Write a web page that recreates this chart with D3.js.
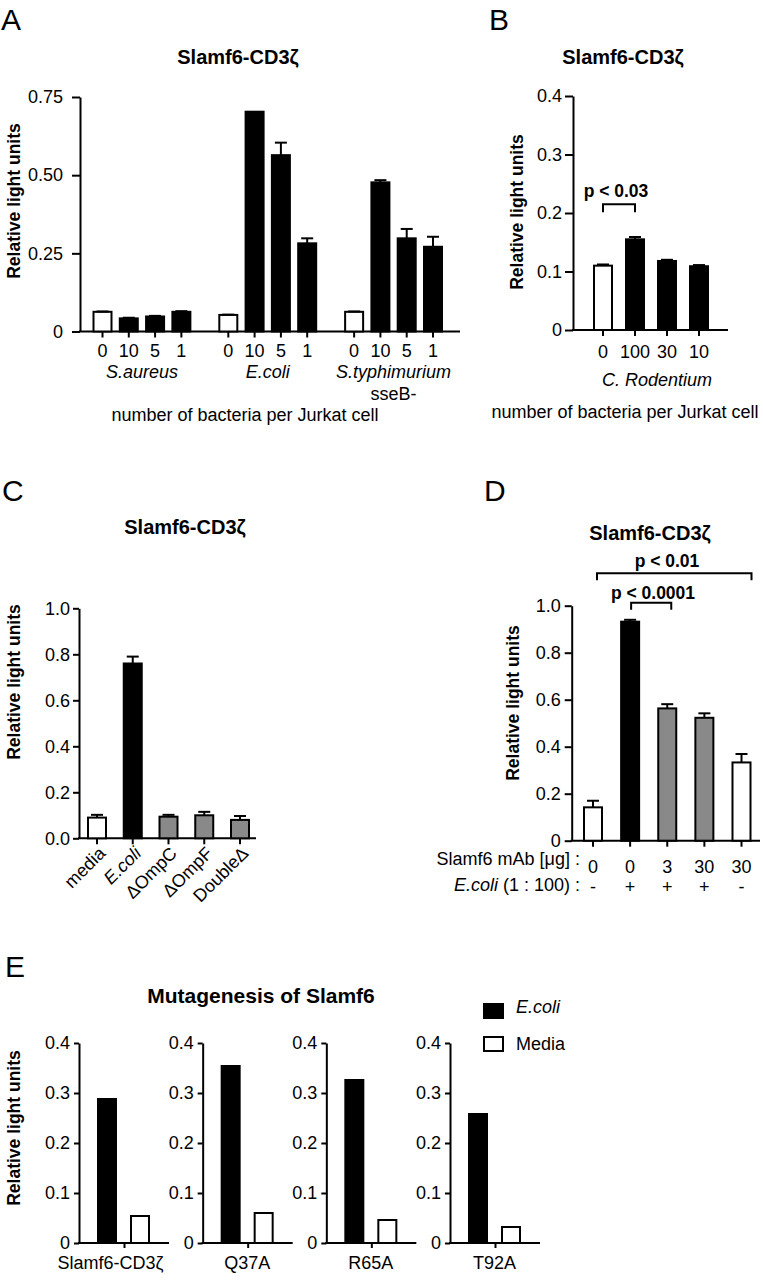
<!DOCTYPE html>
<html><head><meta charset="utf-8">
<script src="https://cdn.jsdelivr.net/npm/d3@7/dist/d3.min.js"></script>
<style>body{margin:0;background:#fff} svg{display:block}</style>
</head><body><svg id="fig" width="763" height="1280"></svg>
<script>
// ---------------- DATA ----------------
// Panel A
const aGroups = ["S.aureus", "E.coli", "S.typhimurium"];
const aDoses = ["0", "10", "5", "1"];
const aSaureus = [0.063, 0.042, 0.048, 0.063];
const aSaureusErr = [0.001, 0.002, 0.002, 0.002];
const aEcoli = [0.053, 0.703, 0.564, 0.282];
const aEcoliErr = [0.001, 0, 0.04, 0.016];
const aStyph = [0.063, 0.477, 0.298, 0.271];
const aStyphErr = [0.001, 0.007, 0.03, 0.032];
const aYTicks = [0, 0.25, 0.5, 0.75];
const aYTickLabels = ["0", "0.25", "0.50", "0.75"];

// Panel B
const bDoses = ["0", "100", "30", "10"];
const bValues = [0.11, 0.155, 0.118, 0.109];
const bErrors = [0.002, 0.004, 0.002, 0.002];
const bYTicks = [0, 0.1, 0.2, 0.3, 0.4];
const bYTickLabels = ["0", "0.1", "0.2", "0.3", "0.4"];

// Panel C
const cStrains = ["media", "E.coli", "ΔOmpC", "ΔOmpF", "DoubleΔ"];
const cValues = [0.09, 0.76, 0.094, 0.10, 0.08];
const cErrors = [0.012, 0.03, 0.008, 0.015, 0.017];
const cYTicks = [0, 0.2, 0.4, 0.6, 0.8, 1.0];
const cYTickLabels = ["0.0", "0.2", "0.4", "0.6", "0.8", "1.0"];

// Panel D
const dMab = ["0", "0", "3", "30", "30"];
const dEcoli = ["-", "+", "+", "+", "-"];
const dValues = [0.142, 0.932, 0.563, 0.523, 0.333];
const dErrors = [0.028, 0.008, 0.018, 0.019, 0.036];
const dYTicks = [0, 0.2, 0.4, 0.6, 0.8, 1.0];
const dYTickLabels = ["0", "0.2", "0.4", "0.6", "0.8", "1.0"];

// Panel E
const eConstructs = ["Slamf6-CD3ζ", "Q37A", "R65A", "T92A"];
const eSeries = ["E.coli", "Media"];
const eEcoli = [0.288, 0.354, 0.326, 0.258];
const eMedia = [0.054, 0.06, 0.046, 0.032];
const eYTicks = [0, 0.1, 0.2, 0.3, 0.4];
const eYTickLabels = ["0", "0.1", "0.2", "0.3", "0.4"];

// ---------------- DRAWING ----------------
const FONT = "'Liberation Sans', Arial, Helvetica, sans-serif";
const GRAY = "#898989";
const svg = d3.select("#fig");
svg.append("rect").attr("width", 763).attr("height", 1280).attr("fill", "#fff");

function text(x, y, s, o = {}) {
  const t = svg.append("text").attr("x", x).attr("y", y).text(s)
    .attr("font-family", FONT).attr("font-size", o.size || 18)
    .attr("font-weight", o.bold ? "bold" : "normal")
    .attr("font-style", o.italic ? "italic" : "normal")
    .attr("text-anchor", o.anchor || "middle").attr("fill", "#000");
  if (o.rotate) t.attr("transform", `rotate(${o.rotate},${x},${y})`);
  if (o.dy) t.attr("dy", o.dy);
  return t;
}
function styleAxis(g, fs) {
  g.attr("font-family", FONT).attr("font-size", fs || 18);
  g.selectAll("path.domain").attr("stroke", "#000").attr("stroke-width", 2);
  g.selectAll(".tick line").attr("stroke", "#000").attr("stroke-width", 2);
  g.selectAll(".tick text").attr("fill", "#000");
}
function yAxis(x, y, ticks, labels, tickSize, pad) {
  const ax = d3.axisLeft(y).tickValues(ticks).tickFormat((d, i) => labels[i])
    .tickSize(tickSize).tickSizeOuter(0).tickPadding(pad);
  const g = svg.append("g").attr("transform", `translate(${x},0)`).call(ax);
  styleAxis(g);
}
function xLine(x1, x2, y) {
  svg.append("line").attr("x1", x1 - 1).attr("x2", x2).attr("y1", y).attr("y2", y)
    .attr("stroke", "#000").attr("stroke-width", 2);
}
function xTicks(xs, y, len) {
  svg.append("g").selectAll("line").data(xs).join("line")
    .attr("x1", d => d).attr("x2", d => d).attr("y1", y).attr("y2", y + len)
    .attr("stroke", "#000").attr("stroke-width", 2);
}
function drawBars(data, y, bw) {
  const g = svg.append("g");
  g.selectAll("rect").data(data).join("rect")
    .attr("x", d => d.x - bw / 2 + 1).attr("y", d => y(d.v))
    .attr("width", bw - 2).attr("height", d => y(0) - y(d.v))
    .attr("fill", d => d.fill).attr("stroke", "#000").attr("stroke-width", 2);
  const eb = data.filter(d => d.e > 0);
  const cw = bw * 0.6;
  g.selectAll("line.v").data(eb).join("line").attr("class", "v")
    .attr("x1", d => d.x).attr("x2", d => d.x).attr("y1", d => y(d.v)).attr("y2", d => y(d.v + d.e))
    .attr("stroke", "#000").attr("stroke-width", 2);
  g.selectAll("line.c").data(eb).join("line").attr("class", "c")
    .attr("x1", d => d.x - cw / 2).attr("x2", d => d.x + cw / 2).attr("y1", d => y(d.v + d.e)).attr("y2", d => y(d.v + d.e))
    .attr("stroke", "#000").attr("stroke-width", 2);
}
function bracket(x1, x2, yb, drop) {
  svg.append("path").attr("d", `M${x1},${yb + drop}V${yb}H${x2}V${yb + drop}`)
    .attr("fill", "none").attr("stroke", "#000").attr("stroke-width", 2);
}

// ---- Panel letters ----
text(1, 30, "A", { size: 30, anchor: "start" });
text(489, 30, "B", { size: 30, anchor: "start" });
text(2, 501, "C", { size: 30, anchor: "start" });
text(484, 501, "D", { size: 30, anchor: "start" });
text(5, 977, "E", { size: 30, anchor: "start" });

// ---- Panel A ----
{
  const y = d3.scaleLinear().domain([0, 0.75]).range([331.5, 97]);
  const STRIDE = 4.785;
  const x = d3.scaleLinear().domain([0, 2 * STRIDE + 3]).range([102.5, 433]);
  const vals = [aSaureus, aEcoli, aStyph], errs = [aSaureusErr, aEcoliErr, aStyphErr];
  const data = [];
  vals.forEach((vs, g) => vs.forEach((v, i) => data.push({
    x: x(g * STRIDE + i), v, e: errs[g][i], fill: i === 0 ? "#fff" : "#000", label: aDoses[i]
  })));
  text(238, 64, "Slamf6-CD3ζ", { size: 20, bold: true });
  yAxis(80, y, aYTicks, aYTickLabels, 8, 9);
  xLine(80, 460, y(0));
  drawBars(data, y, 20);
  xTicks(data.map(d => d.x), y(0), 6);
  svg.append("g").selectAll("text").data(data).join("text")
    .attr("x", d => d.x).attr("y", 357).text(d => d.label)
    .attr("font-family", FONT).attr("font-size", 18).attr("text-anchor", "middle");
  aGroups.forEach((gname, g) => text(x(g * STRIDE + 1.5), 378, gname, { italic: true }));
  text(x(2 * STRIDE + 1.5), 400, "sseB-");
  text(245, 421, "number of bacteria per Jurkat cell");
  text(14, 201, "Relative light units", { size: 17.5, bold: true, rotate: -90, dy: "0.35em" });
}

// ---- Panel B ----
{
  const y = d3.scaleLinear().domain([0, 0.4]).range([330, 96]);
  const x = d3.scalePoint().domain(bDoses).range([603, 699]);
  const data = bDoses.map((d, i) => ({ x: x(d), v: bValues[i], e: bErrors[i], fill: i === 0 ? "#fff" : "#000" }));
  text(623, 64, "Slamf6-CD3ζ", { size: 20, bold: true });
  yAxis(573, y, bYTicks, bYTickLabels, 8, 3);
  xLine(573, 728, y(0));
  drawBars(data, y, 20);
  xTicks(data.map(d => d.x), y(0), 6);
  bDoses.forEach(d => text(x(d), 358, d));
  text(657, 386, "C. Rodentium", { italic: true });
  text(625, 418, "number of bacteria per Jurkat cell");
  text(517, 212, "Relative light units", { size: 17.5, bold: true, rotate: -90, dy: "0.35em" });
  bracket(x("0"), x("100"), y(0.215), 8);
  text(616, 197, "p < 0.03", { size: 17.5, bold: true });
}

// ---- Panel C ----
{
  const y = d3.scaleLinear().domain([0, 1]).range([838.3, 608.3]);
  const x = d3.scalePoint().domain(cStrains).range([97, 240]);
  const fills = ["#fff", "#000", GRAY, GRAY, GRAY];
  const data = cStrains.map((d, i) => ({ x: x(d), v: cValues[i], e: cErrors[i], fill: fills[i] }));
  text(185, 534, "Slamf6-CD3ζ", { size: 20, bold: true });
  yAxis(79, y, cYTicks, cYTickLabels, 6, 3);
  xLine(79, 256, y(0));
  drawBars(data, y, 20);
  xTicks(data.map(d => d.x), y(0), 6);
  cStrains.forEach(d => {
    const px = x(d) + 5, py = 850;
    svg.append("text").attr("transform", `translate(${px},${py}) rotate(-45)`)
      .attr("text-anchor", "end").attr("dy", "0.35em").attr("font-family", FONT).attr("font-size", 18)
      .attr("font-style", d === "E.coli" ? "italic" : "normal").text(d);
  });
  text(14, 682, "Relative light units", { size: 17.5, bold: true, rotate: -90, dy: "0.35em" });
}

// ---- Panel D ----
{
  const y = d3.scaleLinear().domain([0, 1]).range([840.7, 605.7]);
  const idx = d3.range(dValues.length);
  const x = d3.scalePoint().domain(idx).range([593, 741.5]);
  const fills = ["#fff", "#000", GRAY, GRAY, "#fff"];
  const data = idx.map(i => ({ x: x(i), v: dValues[i], e: dErrors[i], fill: fills[i] }));
  text(650, 540, "Slamf6-CD3ζ", { size: 20, bold: true });
  yAxis(571.7, y, dYTicks, dYTickLabels, 7, 4);
  xLine(571.7, 760, y(0));
  drawBars(data, y, 20);
  xTicks(data.map(d => d.x), y(0), 6);
  text(580, 865, "Slamf6 mAb [μg] :", { anchor: "end" });
  const t2 = text(580, 891, "", { anchor: "end" });
  t2.append("tspan").attr("font-style", "italic").text("E.coli");
  t2.append("tspan").text(" (1 : 100) :");
  idx.forEach(i => { text(x(i), 873, dMab[i]); text(x(i), 893, dEcoli[i]); });
  text(513, 703, "Relative light units", { size: 17.5, bold: true, rotate: -90, dy: "0.35em" });
  bracket(x(0) + 4, x(4) + 10, y(1.138), 7);
  text(667, 566.5, "p < 0.01", { size: 17.5, bold: true });
  bracket(x(1) + 1, x(2) + 4, y(1.013), 7);
  text(653, 599, "p < 0.0001", { size: 17.5, bold: true });
}

// ---- Panel E ----
{
  const y = d3.scaleLinear().domain([0, 0.4]).range([1243, 1043]);
  const outer = d3.scalePoint().domain(eConstructs).range([79, 450]);
  const inner = d3.scalePoint().domain(eSeries).range([28, 61]);
  const fills = { "E.coli": "#000", "Media": "#fff" };
  text(261, 1003, "Mutagenesis of Slamf6", { size: 21, bold: true });
  eConstructs.forEach((c, k) => {
    const ox = outer(c);
    yAxis(ox, y, eYTicks, eYTickLabels, 5, 4);
    xLine(ox, ox + 90, y(0));
    const data = eSeries.map((s, j) => ({ x: ox + inner(s), v: (j === 0 ? eEcoli : eMedia)[k], e: 0, fill: fills[s] }));
    drawBars(data, y, 20);
    const tx = ox + (inner("E.coli") + inner("Media")) / 2 + 1;
    xTicks([tx], y(0), 5);
    text(tx + (k === 0 ? -14 : -1), 1269, c);
  });
  text(14, 1128, "Relative light units", { size: 17.5, bold: true, rotate: -90, dy: "0.35em" });
  // legend
  const lg = svg.append("g");
  lg.selectAll("rect").data(eSeries).join("rect")
    .attr("x", 484).attr("y", (d, i) => 1004 + i * 33).attr("width", 19).attr("height", 14)
    .attr("fill", d => fills[d]).attr("stroke", "#000").attr("stroke-width", 2);
  eSeries.forEach((s, i) => text(516, 1013 + i * 37, s, { anchor: "start", italic: s === "E.coli" }));
}
</script></body></html>
